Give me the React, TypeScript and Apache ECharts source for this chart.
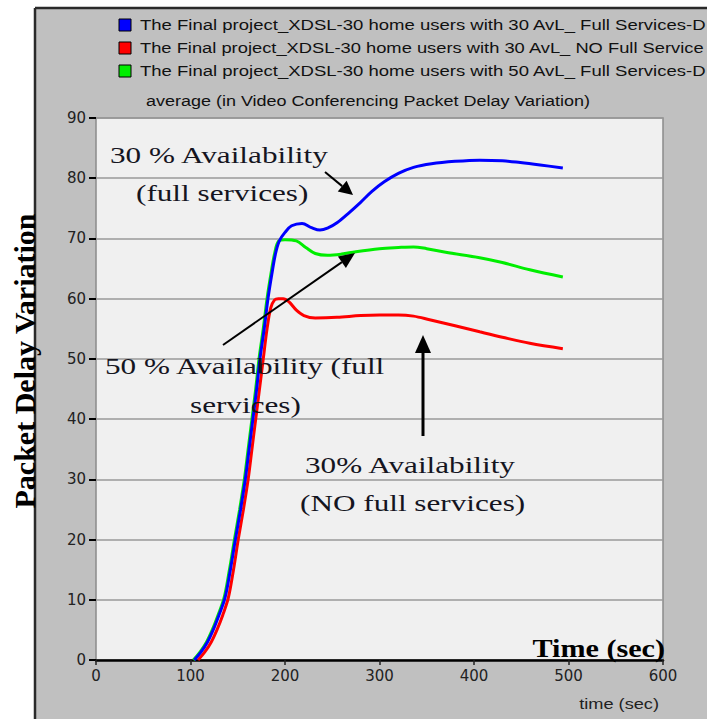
import React, { useEffect, useRef } from "react";
import * as echarts from "echarts";

const seriesNames = [
  "The Final project_XDSL-30 home users with 30 AvL_ Full Services-D",
  "The Final project_XDSL-30 home users with 30 AvL_ NO Full Service",
  "The Final project_XDSL-30 home users with 50 AvL_ Full Services-D",
];
const seriesColors = ["#0000ff", "#ff0000", "#00ee00"];

const blueData: [number, number][] = [
  [104, 0], [111, 1.3], [118, 3], [124, 5], [130, 7.4], [136.5, 10.3], [142, 14.8], [147.5, 20],
  [153, 25], [158, 30], [162, 35], [166, 40], [170, 45], [173.5, 50], [178, 55], [182, 60],
  [186, 64], [190, 67.5], [194, 69.6], [200, 71], [207, 72.1], [218, 72.5], [228, 71.8],
  [237, 71.4], [246, 71.8], [255, 72.6], [268, 74.3], [280, 76], [292, 77.8], [305, 79.4],
  [320, 80.8], [336, 81.8], [355, 82.4], [380, 82.8], [406, 83.0], [430, 82.9], [449, 82.6],
  [470, 82.2], [494, 81.7],
];
const redData: [number, number][] = [
  [108, 0], [115, 1.3], [122, 3], [128, 5], [134, 7.4], [140, 10.3], [145.5, 15], [150.5, 20],
  [156, 25], [161, 30], [165, 35], [169, 40], [173, 45], [177, 50], [181, 55], [185, 58.5],
  [189, 59.8], [193, 60], [198, 60], [204, 59.5], [212, 58.1], [220, 57.2], [232, 56.8],
  [255, 56.9], [280, 57.2], [300, 57.3], [320, 57.3], [336, 57.1], [353, 56.5], [380, 55.5],
  [406, 54.5], [430, 53.6], [459, 52.6], [494, 51.7],
];
const greenData: [number, number][] = [
  [103, 0], [110, 1.3], [117, 3], [123, 5], [129, 7.4], [135.5, 10.3], [141, 14.8], [146.5, 20],
  [152, 25], [157, 30], [161, 35], [165, 40], [169, 45], [172.5, 50], [177, 55], [181, 60],
  [185, 64], [189, 67.5], [193, 69.5], [200, 69.8], [212, 69.6], [222, 68.5], [232, 67.5],
  [245, 67.2], [260, 67.4], [275, 67.8], [300, 68.3], [320, 68.5], [336, 68.6], [350, 68.3],
  [370, 67.7], [406, 66.8], [430, 66], [459, 64.8], [494, 63.6],
];

const chartTitle = "average (in Video Conferencing Packet Delay Variation)";
const yTitle = "Packet Delay Variation";
const xBigTitle = "Time (sec)";
const xSmallTitle = "time (sec)";

const SERIF = "'Liberation Serif', 'Times New Roman', serif";
const SANS = "'Liberation Sans', Arial, sans-serif";
const LABEL_FONT = "'DejaVu Sans', sans-serif";

function arrow(x1: number, y1: number, x2: number, y2: number, len: number, half: number, w: number) {
  const dx = x2 - x1, dy = y2 - y1;
  const d = Math.sqrt(dx * dx + dy * dy);
  const ux = dx / d, uy = dy / d;
  const bx = x2 - ux * len, by = y2 - uy * len;
  const px = -uy, py = ux;
  return [
    { type: "line", shape: { x1, y1, x2: bx, y2: by }, style: { stroke: "#000", lineWidth: w }, z: 100 },
    {
      type: "polygon",
      shape: { points: [[x2, y2], [bx + px * half, by + py * half], [bx - px * half, by - py * half]] },
      style: { fill: "#000" },
      z: 100,
    },
  ];
}

function annot(text: string, x: number, y: number) {
  return {
    type: "text",
    x,
    y,
    scaleX: 1.3,
    z: 100,
    style: { text, fill: "#15151f", font: `24px ${SERIF}`, textAlign: "left", textVerticalAlign: "middle" },
  };
}

const legendScale = [1.235, 1.222, 1.235];

function legendRow(i: number) {
  const y = 25 + i * 23;
  return [
    {
      type: "rect",
      z: 50,
      shape: { x: 119, y: y - 6, width: 12, height: 12 },
      style: { fill: seriesColors[i], stroke: "#000", lineWidth: 1 },
    },
    {
      type: "text",
      x: 140,
      y,
      scaleX: legendScale[i],
      z: 50,
      style: { text: seriesNames[i], fill: "#111", font: `15px ${SANS}`, textAlign: "left", textVerticalAlign: "middle" },
    },
  ];
}

export default function App() {
  const ref = useRef<HTMLDivElement>(null);
  useEffect(() => {
    const chart = echarts.init(ref.current!, null, { renderer: "svg" });
    const datas = [blueData, redData, greenData];
    chart.setOption({
      animation: false,
      backgroundColor: "#ffffff",
      grid: {
        left: 96,
        top: 118,
        width: 567,
        height: 542,
        show: true,
        backgroundColor: "#f0f0f0",
        borderColor: "#8a8a8a",
        borderWidth: 1.5,
      },
      xAxis: {
        type: "value",
        min: 0,
        max: 600,
        interval: 100,
        axisLine: { show: true, lineStyle: { color: "#000", width: 2.5 } },
        axisTick: { show: true, length: 5, lineStyle: { color: "#222", width: 1.5 } },
        axisLabel: { fontFamily: LABEL_FONT, fontSize: 15, color: "#222", margin: 8 },
        splitLine: { show: false },
      },
      yAxis: {
        type: "value",
        min: 0,
        max: 90,
        interval: 10,
        axisLine: { show: false },
        axisTick: { show: true, length: 7, lineStyle: { color: "#000", width: 2 } },
        axisLabel: { fontFamily: LABEL_FONT, fontSize: 15, color: "#222", margin: 10 },
        splitLine: { show: true, lineStyle: { color: "#9a9a9a", width: 1.5 } },
      },
      series: seriesNames.map((n, i) => ({
        name: n,
        type: "line",
        data: datas[i],
        smooth: 0.35,
        showSymbol: false,
        symbol: "none",
        z: i === 0 ? 4 : i === 1 ? 3 : 2,
        lineStyle: { color: seriesColors[i], width: 3 },
        itemStyle: { color: seriesColors[i] },
      })),
      graphic: [
        {
          type: "rect",
          z: -10,
          shape: { x: 35, y: 8, width: 700, height: 720 },
          style: { fill: "#c0c0c0", stroke: "none" },
        },
        { type: "line", z: -9, shape: { x1: 35, y1: 8, x2: 35, y2: 719 }, style: { stroke: "#2a2a2a", lineWidth: 2.5 } },
        { type: "line", z: -9, shape: { x1: 35, y1: 8, x2: 707, y2: 8 }, style: { stroke: "#2a2a2a", lineWidth: 2.5 } },
        ...legendRow(0),
        ...legendRow(1),
        ...legendRow(2),
        {
          type: "text",
          x: 146,
          y: 101,
          scaleX: 1.2,
          z: 50,
          style: { text: chartTitle, fill: "#111", font: `15px ${SANS}`, textAlign: "left", textVerticalAlign: "middle" },
        },
        {
          type: "text",
          x: 24,
          y: 361,
          rotation: Math.PI / 2,
          z: 100,
          style: { text: yTitle, fill: "#000", font: `bold 30px ${SERIF}`, textAlign: "center", textVerticalAlign: "middle" },
        },
        {
          type: "text",
          x: 665,
          y: 648,
          scaleX: 1.16,
          z: 100,
          style: { text: xBigTitle, fill: "#000", font: `bold 26px ${SERIF}`, textAlign: "right", textVerticalAlign: "middle" },
        },
        {
          type: "text",
          x: 659,
          y: 704,
          scaleX: 1.3,
          z: 100,
          style: { text: xSmallTitle, fill: "#222", font: `14px ${SANS}`, textAlign: "right", textVerticalAlign: "middle" },
        },
        annot("30 % Availability", 110, 155),
        annot("(full services)", 136, 193),
        annot("50 % Availability (full", 105, 366),
        annot("services)", 190, 405),
        annot("30% Availability", 305, 465),
        annot("(NO full services)", 300, 503),
        ...arrow(325, 172, 353, 195, 14, 7, 2),
        ...arrow(223, 345, 355, 253, 16, 7, 2),
        ...arrow(423, 436, 423, 335, 18, 8, 3),
      ],
    });
    return () => chart.dispose();
  }, []);
  return (
    <div
      ref={ref}
      style={{ position: "fixed", left: 0, top: 0, width: 707, height: 719, background: "#fff" }}
    />
  );
}
